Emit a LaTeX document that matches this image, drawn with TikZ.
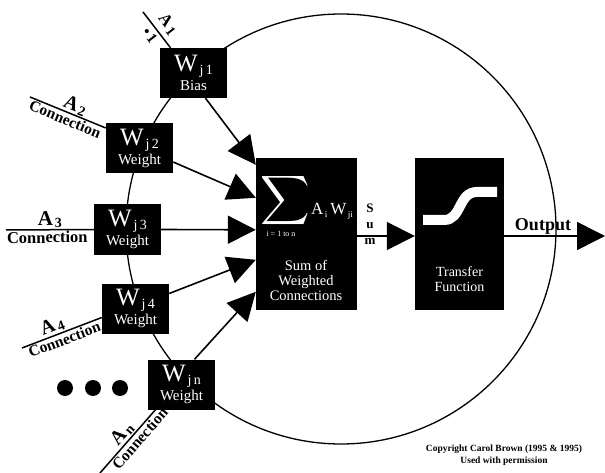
\documentclass[tikz,border=0pt]{standalone}
\usepackage{amsmath}
\usepackage{graphicx}
\usepackage{fontspec}
\setmainfont{Liberation Serif}
\usetikzlibrary{arrows.meta,calc}

\newcommand\fs[1]{\fontsize{#1}{#1}\selectfont}
% weight box text: W with index, caption underneath
\newcommand\wlabel[2]{{\fs{25}W}\hspace{2pt}\raisebox{-3pt}{\fs{14}j\,#1}\\{\fs{15}#2}}
% activation label A with index
\newcommand\alab[2]{{\fs{#1}A}\hspace{2pt}\raisebox{-2pt}{\fs{14}#2}}

\begin{document}
\begin{tikzpicture}[x=1pt,y=-1pt,
  wbox/.style={fill=black,minimum width=67pt,minimum height=50pt,inner sep=0pt,
    text=white,align=center,font=\fontsize{15}{19}\selectfont},
  bigbox/.style={fill=black,minimum width=#1,minimum height=152pt,inner sep=0pt},
  ring/.style={circle,draw,line width=1.3pt,minimum size=430pt,inner sep=0pt},
  conn/.style={line width=1.5pt},
  feed/.style={line width=1.6pt,-{Triangle[length=28pt,width=28pt]}},
  toplab/.style={sloped,above,inner sep=1pt,font=\bfseries},
  botlab/.style={sloped,below,inner sep=1pt,font=\bfseries\fontsize{15.5}{15.5}\selectfont},
  wtext/.style={text=white,inner sep=0pt},
  dotc/.style={circle,fill=black,minimum size=16pt,inner sep=0pt}
]
\useasboundingbox (0,0) rectangle (605,473);

% cell body
\node[ring] (soma) at (341,229) {};

% weight boxes sitting on the cell boundary
\node[wbox] (w1) at (193.5,73) {\wlabel{1}{Bias}};
\node[wbox] (w2) at (139.5,148) {\wlabel{2}{Weight}};
\node[wbox] (w3) at (127.5,229.5) {\wlabel{3}{Weight}};
\node[wbox] (w4) at (135.5,308.5) {\wlabel{4}{Weight}};
\node[wbox] (wn) at (181.5,384.5) {\wlabel{n}{Weight}};

% summation and transfer blocks
\node[bigbox=101pt] (sum) at (306.5,234) {};
\node[bigbox=89pt] (tf) at (459.5,234) {};

% summation block contents
\node[wtext,font=\fs{29}] (sig) at (285,201) {\scalebox{1.38}{$\displaystyle\sum$}};
\node[wtext,font=\fs{17}] (aw) at (332,211) {A\raisebox{-3pt}{\fs{9}\,i}\,W\raisebox{-3pt}{\fs{9}\,ji}};
\node[wtext,font=\fs{8}] (rng) at (281,234) {i = 1 to n};
\node[wtext,align=center,font=\fontsize{14.5}{15}\selectfont] (sumtxt) at (306,280)
  {Sum of\\Weighted\\Connections};

% transfer block contents
\draw[white,line width=10pt] (423,220) -- (444,220)
  .. controls (462,220) and (458,192) .. (477,192) -- (497,192);
\node[wtext,align=center,font=\fontsize{14}{15}\selectfont] (tftxt) at (459.5,279)
  {Transfer\\Function};

% inputs
\coordinate (a1) at (143,12);
\coordinate (a2) at (30,97);
\coordinate (a3) at (6,230);
\coordinate (a4) at (22,348);
\coordinate (an) at (100,473);

\draw[conn] (a1) -- ([xshift=-23pt]w1.north)
  node[toplab,pos=0.55,above=4pt,font=\bfseries\fs{15}] {\alab{17}{1}}
  node[botlab,pos=0.5,below=2pt,font=\bfseries\fs{15}] {\textbullet\,1};
\draw[conn] (a2) -- ([yshift=20pt]w2.west)
  node[toplab,pos=0.55] {\alab{20}{2}}
  node[botlab,pos=0.5] {Connection};
\draw[conn] (a3) -- (w3.west)
  node[toplab,pos=0.5] {\alab{21}{3}}
  node[botlab,pos=0.47,font=\bfseries\fs{16.5}] {Connection};
\draw[conn] (a4) -- ([yshift=-9pt]w4.west)
  node[toplab,pos=0.42] {\alab{20}{4}}
  node[botlab,pos=0.5] {Connection};
\draw[conn] (an) -- ([xshift=-26pt]wn.south)
  node[toplab,pos=0.52] {\alab{20}{n}}
  node[botlab,pos=0.62] {Connection};

% ellipsis for further inputs
\node[dotc] (d1) at (65,388) {};
\node[dotc] (d2) at (93,388) {};
\node[dotc] (d3) at (120,388) {};

% weighted connections into the summation block
\draw[feed] ([xshift=12pt]w1.south) -- ([yshift=-7pt]sum.north west);
\draw[feed] ([yshift=-14pt]w2.east) -- ([yshift=-40pt]sum.north west);
\draw[feed] (w3.east) -- ([yshift=-72pt]sum.north west);
\draw[feed] ([yshift=15pt]w4.east) -- ([yshift=-102pt]sum.north west);
\draw[feed] ([xshift=13pt]wn.north) -- ([yshift=-134pt]sum.north west);

% sum to transfer, transfer to output
\coordinate (out) at (605,236);
\draw[feed] ([yshift=-2pt]sum.east) -- ([yshift=-2pt]tf.west);
\node[font=\bfseries\fs{13},align=center,inner sep=0pt] (sumlab) at (370,224)
  {S\\[3pt]u\\[3pt]m};
\draw[feed] ([yshift=-2pt]tf.east) -- (out);
\node[font=\bfseries\fs{18},inner sep=0pt,anchor=base] (outlab) at (543,231) {Output};

% credit line
\node[font=\bfseries\fontsize{9.5}{12}\selectfont,align=center] (credit) at (504,455)
  {Copyright Carol Brown (1995 \& 1995)\\Used with permission};
\end{tikzpicture}
\end{document}
